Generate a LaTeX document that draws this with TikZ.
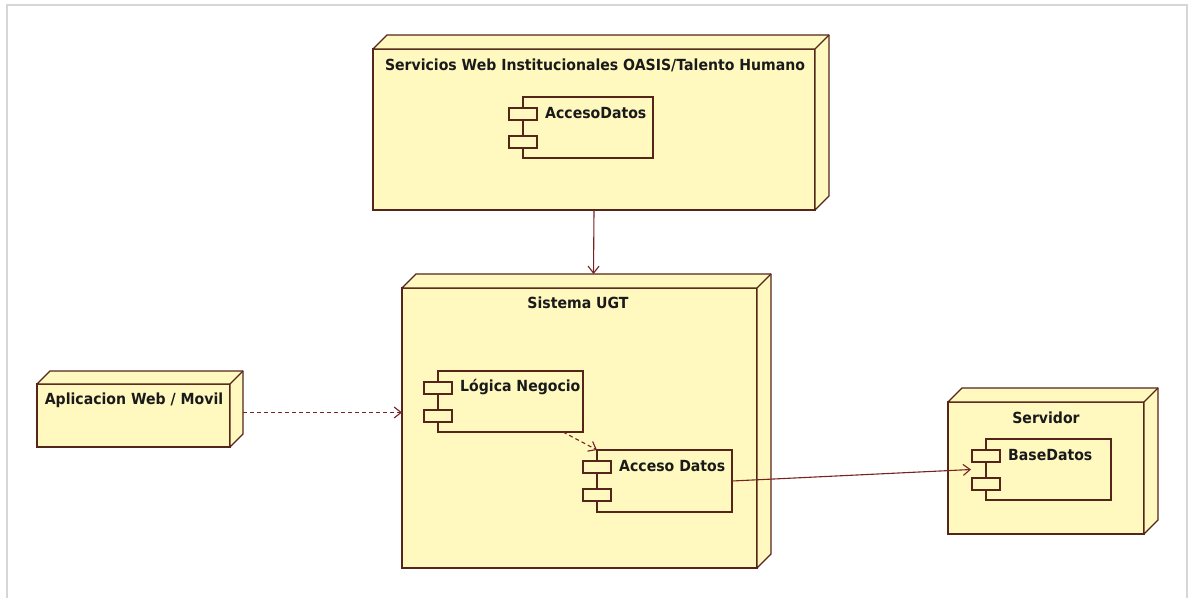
\documentclass[tikz,border=0pt]{standalone}
\usepackage{fontspec}
\usetikzlibrary{arrows.meta}
\newfontfamily\umlfont{DejaVu Sans}[FakeStretch=0.92]
\definecolor{nodefill}{HTML}{FFF9C0}
\definecolor{edge}{HTML}{55251A}
\definecolor{link}{HTML}{742424}
\definecolor{framegray}{HTML}{D6D6D6}
\definecolor{ink}{HTML}{1A1A1A}
\tikzset{
  front/.style={draw=edge, fill=nodefill, line width=1.3pt, anchor=north west, inner sep=0pt, outer sep=0pt},
  side/.style={draw=edge, fill=nodefill, line width=1.3pt, line join=round},
  port/.style={draw=edge, fill=nodefill, line width=1.3pt, anchor=north west, inner sep=0pt, outer sep=0pt,
    minimum width=28pt, minimum height=12pt},
  title/.style={font=\umlfont\bfseries\fontsize{15.3}{17}\selectfont, text=ink, inner sep=0pt},
  label/.style={title, anchor=west},
  conn/.style={draw=link, line width=1.1pt, -{Straight Barb[length=7pt,width=11pt]}},
  dep/.style={conn, dash pattern=on 4pt off 3pt},
}
% 3D deployment node: name, x1, y1, x2, y2, depth
\newcommand\deploybox[6]{%
  \node[front, minimum width={(#4-#2)*1pt}, minimum height={(#5-#3)*1pt}] (#1) at (#2,#3) {};
  \draw[side] (#1.north west) -- ++(#6,-#6) -- ([shift={(#6,-#6)}]#1.north east)
    -- ([shift={(#6,-#6)}]#1.south east) -- (#1.south east) -- (#1.north east) -- cycle;
  \draw[side] (#1.north east) -- ++(#6,-#6);
}
% component box with two ports: name, x1, y1, x2, y2, text
\newcommand\component[6]{%
  \node[front, minimum width={(#4-#2)*1pt}, minimum height={(#5-#3)*1pt}] (#1) at (#2,#3) {};
  \node[port] (#1p1) at ({#2-14},{#3+11}) {};
  \node[port] (#1p2) at ({#2-14},{#3+39}) {};
  \node[label] (#1t) at ({#2+22},{#3+16}) {#6};
}
\begin{document}
\begin{tikzpicture}[x=1pt,y=-1pt]
\useasboundingbox (0,0) rectangle (1190,597);
\fill[white] (0,0) rectangle (1190,597);
\draw[framegray, line width=2pt] (7,610) -- (7,5) -- (1187,5) -- (1187,610);

% nodes
\deploybox{svc}{373}{49}{815}{210}{14}
\node[title] (svctitle) at (595,65) {Servicios Web Institucionales OASIS/Talento Humano};
\component{sad}{523}{97}{653}{158}{AccesoDatos}

\deploybox{ugt}{402}{288}{757}{568}{14}
\node[title] (ugttitle) at (578,303) {Sistema UGT};
\component{lg}{438}{371}{583}{432}{Lógica Negocio}
\component{ad}{597}{450}{732}{512}{Acceso Datos}

\deploybox{app}{37}{384}{230}{447}{13}
\node[title] (apptitle) at (134,400) {Aplicacion Web / Movil};

\deploybox{srv}{948}{402}{1144}{534}{14}
\node[title] (srvtitle) at (1046,418) {Servidor};
\component{bd}{986}{439}{1111}{500}{BaseDatos}

% connectors
\draw[conn] (svc.south) -- ([shift={(14,-14)}]ugt.north);
\draw[dep] ([xshift=13pt,yshift=3pt]app.east) coordinate (a0) -- (a0 -| ugt.west);
\draw[dep] ([xshift=-20pt]lg.south east) -- (ad.north west);
\draw[conn] (ad.east) -- ([xshift=-15pt]bd.west);
\end{tikzpicture}
\end{document}
